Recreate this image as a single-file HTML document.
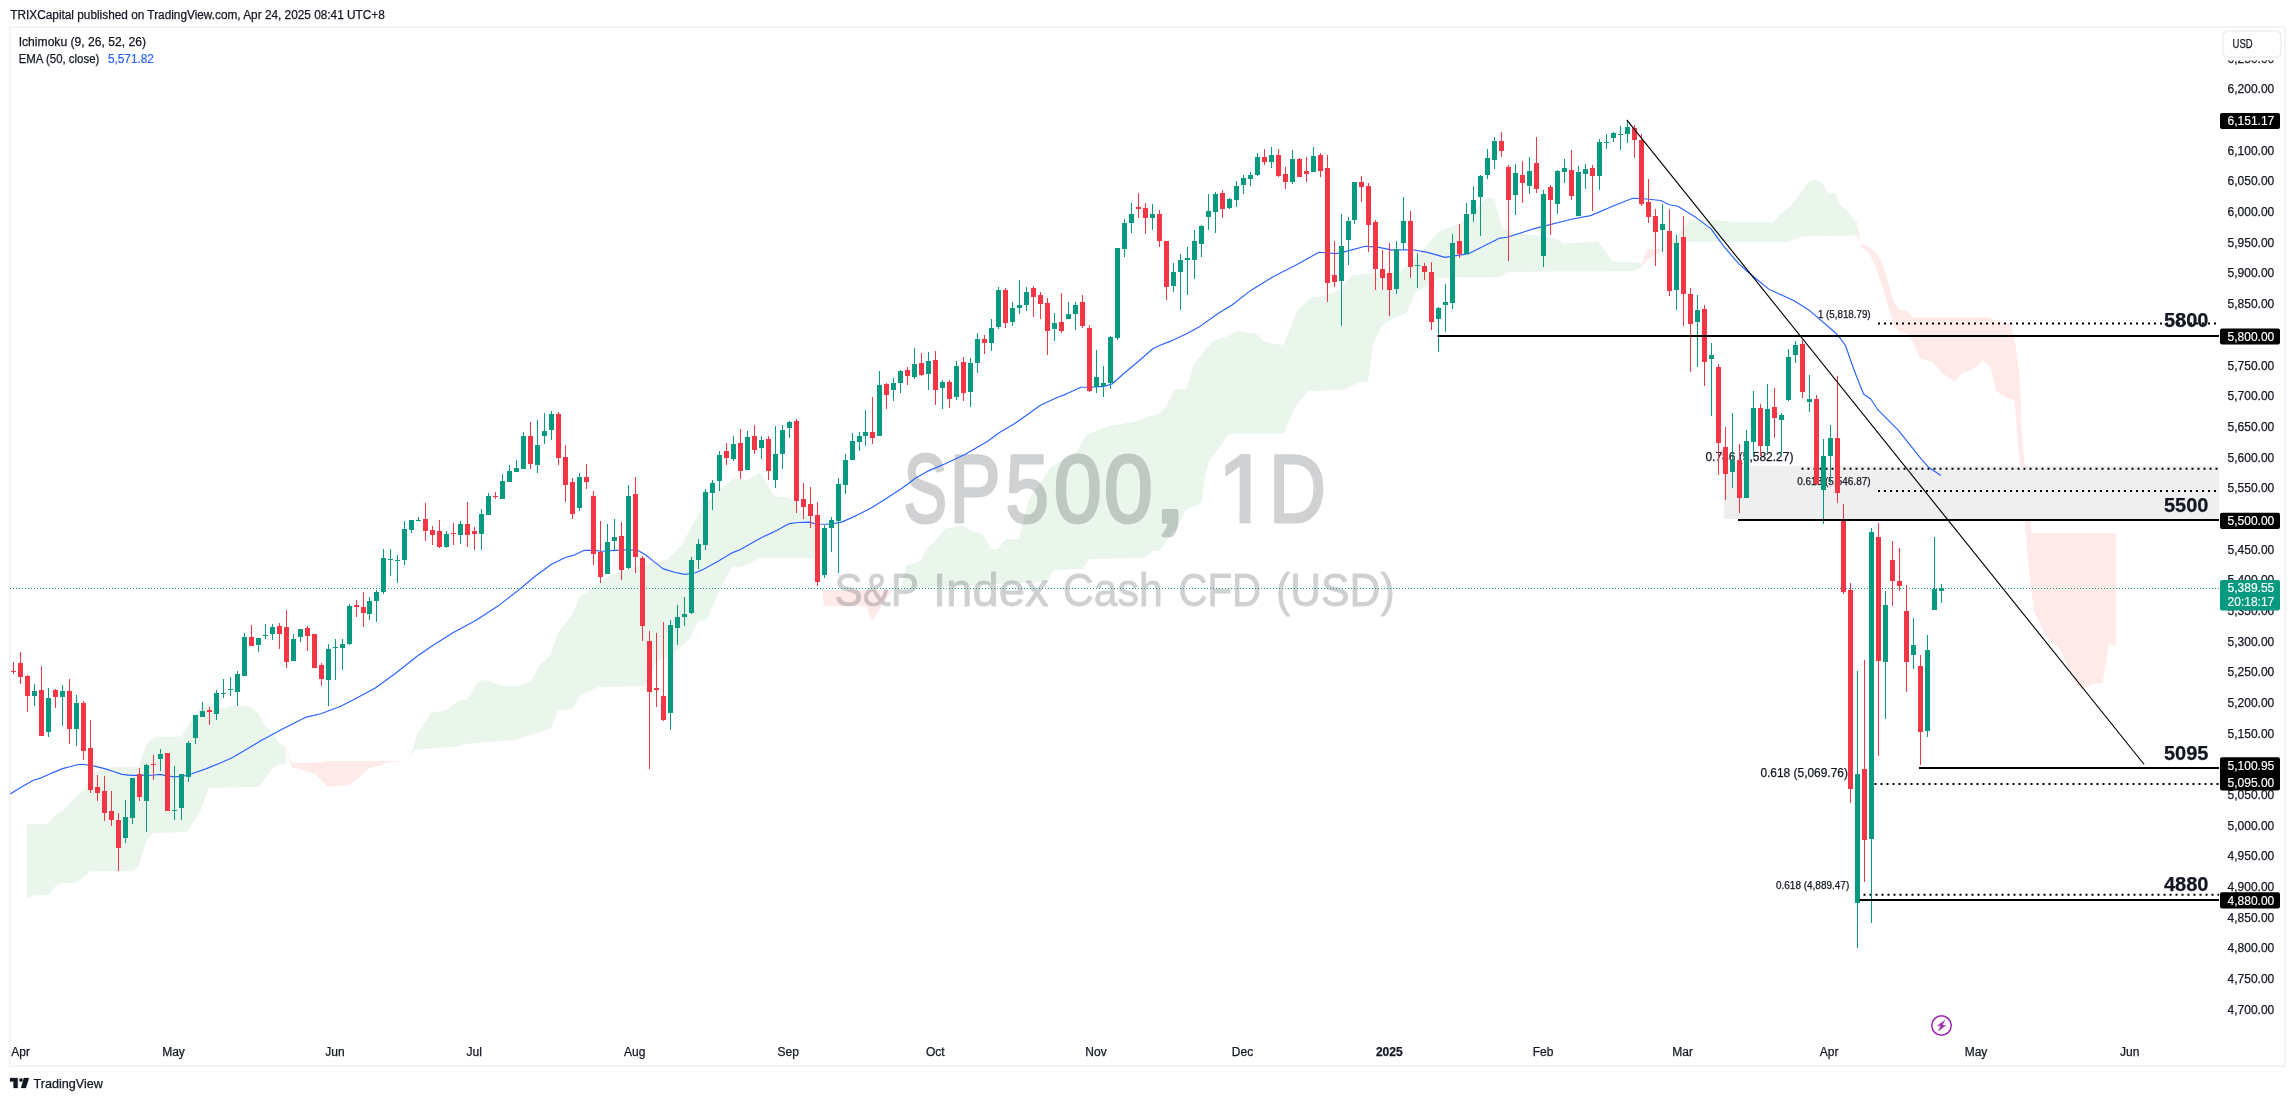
<!DOCTYPE html>
<html><head><meta charset="utf-8"><title>SP500 1D chart</title>
<style>html,body{margin:0;padding:0;background:#fff;overflow:hidden;}svg{display:block;will-change:transform;}</style>
</head><body>
<svg width="2295" height="1101" viewBox="0 0 2295 1101">
<rect x="0" y="0" width="2295" height="1101" fill="#fff"/>
<rect x="10" y="27" width="2275" height="1039" fill="none" stroke="#f0f0f0" stroke-width="1.5"/>
<polygon points="27.0,824.3 48.0,824.3 55.0,814.9 63.0,810.9 74.9,797.9 82.9,790.9 88.0,782.0 94.9,771.9 110.9,766.9 138.9,766.9 142.9,753.9 146.9,743.9 154.9,737.0 180.8,736.4 184.8,730.0 194.0,715.8 202.8,705.0 210.8,703.0 220.8,709.0 234.8,705.0 250.8,707.0 258.8,714.0 264.7,726.0 272.7,732.0 278.7,743.0 285.7,746.9 285.7,763.5 280.7,763.5 272.7,767.9 266.7,775.9 258.8,786.9 208.8,787.9 200.8,809.9 194.8,819.9 186.8,831.9 152.9,832.9 146.9,839.9 142.9,851.8 138.9,865.8 132.9,870.8 89.9,871.4 82.9,877.8 74.9,882.8 62.0,883.2 55.0,886.8 48.0,894.8 33.0,895.8 27.0,898.8" fill="rgba(67,160,71,0.11)"/>
<polygon points="285.7,746.9 291.7,762.9 320.7,762.3 326.7,760.9 406.6,760.9 404.6,760.9 386.6,762.9 374.6,766.9 368.6,767.9 358.7,777.9 348.7,785.5 334.7,785.9 327.7,786.9 320.7,779.9 314.7,773.9 304.7,770.9 296.7,767.9 291.7,767.5" fill="rgba(244,67,54,0.11)"/>
<polygon points="406.6,760.9 412.6,749.9 416.6,735.0 422.6,726.0 430.9,712.4 445.4,710.6 458.1,700.8 467.2,699.7 478.1,681.6 485.4,679.7 499.9,685.2 516.2,686.3 530.8,681.6 539.9,665.2 550.8,654.3 558.0,632.5 572.6,614.3 579.8,596.2 587.1,592.5 598.0,583.5 612.5,574.4 634.3,567.1 647.0,564.2 667.0,559.9 681.5,545.3 692.4,525.3 703.3,507.2 714.2,494.5 734.2,478.1 740.0,479.1 747.3,480.0 760.0,472.7 767.5,485.0 774.5,496.3 789.0,498.1 796.3,503.6 801.8,513.6 814.5,518.0 814.5,558.0 760.0,558.0 750.6,563.5 740.0,567.0 732.4,567.1 721.5,585.3 707.0,619.8 697.9,621.6 688.8,639.8 670.6,656.1 656.1,661.6 645.2,686.3 598.0,687.0 579.8,696.1 572.6,708.8 558.0,710.6 550.8,728.8 532.6,734.2 516.2,739.7 470.8,743.3 452.7,747.0 427.2,748.8 414.6,750.0" fill="rgba(67,160,71,0.11)"/>
<polygon points="821.6,577.5 822.8,589.9 892.8,589.9 881.4,605.8 872.2,621.3 866.0,606.1 823.8,606.1" fill="rgba(244,67,54,0.11)"/>
<polygon points="901.2,588.3 906.2,565.4 920.9,561.3 927.4,547.4 933.9,542.5 945.4,528.6 961.7,525.3 971.5,531.1 983.0,534.3 991.1,549.0 997.7,549.0 1005.9,539.2 1018.9,539.2 1028.8,500.0 1050.6,467.0 1076.1,452.5 1087.0,434.3 1108.8,426.0 1134.2,422.0 1148.7,416.2 1158.2,414.3 1166.3,406.2 1174.5,389.8 1186.8,388.4 1193.6,365.3 1212.7,340.8 1226.3,336.7 1237.2,331.2 1256.3,334.0 1264.4,342.1 1283.5,344.9 1297.1,310.8 1310.8,297.7 1324.4,295.8 1340.7,289.0 1351.6,275.4 1362.5,274.0 1401.7,270.8 1422.5,250.8 1430.8,240.0 1438.4,231.8 1459.9,223.6 1487.1,198.2 1494.4,198.2 1501.6,226.3 1508.9,231.8 1554.3,238.1 1563.4,243.6 1597.9,241.8 1604.6,250.5 1612.6,261.5 1638.8,262.7 1641.2,264.0 1641.2,267.6 1632.7,271.3 1508.9,271.7 1499.8,277.2 1454.4,277.2 1438.0,279.0 1427.2,286.3 1416.3,291.7 1406.1,313.5 1395.2,317.6 1381.6,325.8 1373.4,343.5 1368.0,381.6 1357.1,383.0 1346.2,389.8 1308.0,391.2 1297.1,403.4 1283.5,433.4 1229.0,433.4 1223.6,441.6 1208.6,462.0 1204.5,480.0 1202.0,500.0 1200.4,504.1 1185.6,509.8 1177.5,527.8 1167.7,539.2 1159.5,550.7 1153.0,550.7 1143.2,558.0 1089.2,558.9 1082.7,568.7 1053.3,570.3 1046.7,581.7" fill="rgba(67,160,71,0.11)"/>
<polygon points="1641.2,266.0 1647.3,249.3 1663.2,248.7 1665.6,248.1 1654.7,255.4 1647.3,259.7 1641.2,267.6" fill="rgba(244,67,54,0.11)"/>
<polygon points="1665.6,248.1 1675.4,237.1 1690.0,219.4 1712.0,220.0 1736.4,221.9 1773.0,222.5 1780.3,213.9 1787.7,209.0 1797.4,198.1 1808.4,181.6 1815.7,179.8 1821.8,182.8 1827.9,192.6 1835.2,193.2 1841.3,206.6 1847.3,210.9 1857.3,222.7 1857.3,235.4 1801.1,236.5 1787.7,242.0 1685.2,242.0" fill="rgba(67,160,71,0.11)"/>
<polygon points="1857.3,223.6 1860.8,243.6 1869.6,247.5 1878.1,254.5 1884.5,269.0 1892.7,299.0 1899.0,309.9 1906.3,309.9 1912.7,317.2 1989.0,317.2 1996.2,320.8 2010.8,323.5 2013.5,336.2 2016.2,349.0 2018.9,368.9 2020.7,400.0 2021.7,434.8 2026.6,483.9 2031.5,532.9 2116.0,532.9 2116.0,645.7 2109.0,643.3 2102.6,682.5 2092.8,684.0 2080.5,689.9 2070.7,675.1 2060.9,650.6 2046.2,635.9 2033.9,611.4 2029.0,572.2 2024.1,513.3 2019.2,454.5 2014.3,400.5 2004.4,397.1 1996.2,390.7 1990.8,368.0 1982.6,359.9 1972.6,369.8 1961.7,373.5 1954.4,381.7 1941.7,372.6 1933.6,362.6 1919.9,358.0 1913.6,343.5 1907.2,333.5 1900.0,332.6 1894.5,327.2 1889.0,309.0 1883.6,290.8 1876.3,269.0 1870.0,254.5 1861.8,247.2 1857.3,235.4" fill="rgba(244,67,54,0.11)"/>
<g opacity="0.22" fill="#2a2e39" stroke="#2a2e39" stroke-width="3" stroke-linejoin="round" font-family="'Liberation Sans', Arial, sans-serif">
<text transform="translate(903.67,521.8) scale(0.6759,1.0)" font-size="96">S</text>
<text transform="translate(949.51,521.8) scale(0.7981,1.0)" font-size="96">P</text>
<text transform="translate(1005.57,521.8) scale(0.8124,1.0)" font-size="96">5</text>
<text transform="translate(1053.67,521.8) scale(0.9000,1.0)" font-size="96">0</text>
<text transform="translate(1103.63,521.8) scale(0.9204,1.0)" font-size="96">0</text>
<text transform="translate(1268.97,521.8) scale(0.8201,1.0)" font-size="96">D</text>
<text transform="translate(1151.72,522.3) scale(1.3633,1.1)" font-size="96">,</text>
<clipPath id="c1" clipPathUnits="userSpaceOnUse"><rect x="-20" y="-90" width="90" height="80.6"/><rect x="22.7" y="-20" width="11.4" height="22"/></clipPath>
<text transform="translate(1217.9,521.8) scale(0.954,1)" font-size="96" clip-path="url(#c1)">1</text>
</g>
<g opacity="0.22" fill="#2a2e39" stroke="#2a2e39" stroke-width="0.9" stroke-linejoin="round" font-family="'Liberation Sans', Arial, sans-serif">
<text transform="translate(834.59,605.8) scale(0.8952,1.0)" font-size="47">S&amp;P</text>
<text transform="translate(932.98,605.8) scale(1.0058,1.0)" font-size="47">Index</text>
<text transform="translate(1062.83,605.8) scale(0.9113,1.0)" font-size="47">Cash</text>
<text transform="translate(1178.45,605.8) scale(0.8558,1.0)" font-size="47">CFD</text>
<text transform="translate(1275.98,605.8) scale(0.9097,1.0)" font-size="47">(USD)</text>
</g>
<rect x="1724" y="466" width="495" height="53" fill="#efefef"/>
<line x1="10" y1="588.5" x2="2219" y2="588.5" stroke="#089981" stroke-width="1" stroke-dasharray="1 2"/>
<text x="1817.9" y="318" font-family="'Liberation Sans', Arial, sans-serif" font-size="10" fill="#131722" stroke="#131722" stroke-width="0.25" textLength="52.7" lengthAdjust="spacingAndGlyphs">1 (5,818.79)</text>
<text x="1797.2" y="484.8" font-family="'Liberation Sans', Arial, sans-serif" font-size="10" fill="#131722" stroke="#131722" stroke-width="0.25" textLength="73.4" lengthAdjust="spacingAndGlyphs">0.618 (5,546.87)</text>
<text x="1705.4" y="461" font-family="'Liberation Sans', Arial, sans-serif" font-size="12" fill="#131722" stroke="#131722" stroke-width="0.25" textLength="88" lengthAdjust="spacingAndGlyphs">0.786 (5,582.27)</text>
<line x1="1878" y1="323.6" x2="2219" y2="323.6" stroke="#000" stroke-width="2" stroke-dasharray="2 4"/>
<line x1="1801.5" y1="468.8" x2="2219" y2="468.8" stroke="#000" stroke-width="2" stroke-dasharray="2 4"/>
<line x1="1878" y1="490.9" x2="2219" y2="490.9" stroke="#000" stroke-width="2" stroke-dasharray="2 4"/>
<line x1="1874.5" y1="784" x2="2219" y2="784" stroke="#000" stroke-width="2" stroke-dasharray="2 4"/>
<line x1="1863.5" y1="894.8" x2="2219" y2="894.8" stroke="#000" stroke-width="2" stroke-dasharray="2 4"/>
<polyline points="10.2,794.0 21.8,786.8 33.4,780.2 40.7,778.1 50.9,773.4 62.5,768.6 69.8,766.7 77.0,764.7 82.8,764.3 94.5,766.1 104.7,768.6 113.4,771.5 122.1,774.4 130.8,775.4 139.5,775.4 152.6,775.2 159.9,774.4 167.2,775.9 174.4,776.9 183.1,776.3 191.9,773.7 206.4,768.6 220.9,762.8 232.6,757.4 247.1,749.0 261.6,740.3 279.1,730.8 290.0,725.3 306.3,717.1 320.9,713.8 340.8,706.2 359.0,696.8 375.3,688.0 395.3,673.5 417.1,656.2 431.6,646.3 453.4,632.6 475.2,620.8 498.8,605.4 520.6,588.5 535.1,576.3 551.5,564.2 566.0,557.2 573.3,555.4 584.2,550.3 594.5,550.4 601.8,551.2 614.9,550.4 625.1,549.7 638.1,550.4 645.4,554.8 652.7,560.6 662.8,568.6 674.5,572.2 684.7,574.4 694.8,573.0 703.5,569.3 718.1,561.3 732.6,552.6 739.9,549.7 761.7,537.4 776.2,530.8 789.3,523.6 798.0,522.5 809.7,522.1 815.5,524.0 827.1,524.3 835.8,523.1 841.6,522.1 856.2,515.6 870.7,508.3 886.3,498.4 902.7,487.8 915.8,478.0 927.2,471.4 945.2,463.7 964.8,454.6 987.7,441.2 999.1,432.7 1013.9,424.0 1026.9,415.0 1040.0,405.5 1056.4,397.8 1066.2,394.1 1080.9,387.2 1090.7,387.2 1103.8,386.4 1112.0,384.0 1125.0,372.5 1139.7,360.2 1152.8,348.8 1159.4,345.5 1170.0,341.4 1186.1,334.0 1199.0,327.1 1217.9,313.5 1231.7,305.3 1250.8,290.4 1272.6,276.9 1297.1,264.5 1318.9,252.2 1336.3,253.6 1346.2,251.4 1365.3,246.2 1378.9,247.4 1392.5,250.1 1412.6,249.7 1427.5,252.4 1445.0,257.4 1468.9,253.6 1485.4,245.2 1499.8,238.1 1507.2,237.2 1536.2,228.1 1572.5,219.0 1590.6,215.6 1612.6,206.3 1632.7,198.3 1641.5,198.5 1660.8,200.5 1669.3,204.8 1677.8,206.2 1696.1,217.6 1710.8,228.6 1724.2,246.9 1738.9,263.9 1748.6,272.5 1754.3,277.2 1769.4,289.6 1794.2,300.8 1808.8,309.9 1834.2,331.7 1840.0,338.0 1845.4,345.3 1854.0,370.0 1863.6,394.0 1871.0,399.2 1877.8,409.7 1898.2,430.2 1911.8,447.2 1920.9,458.6 1928.9,467.6 1940.9,475.6" fill="none" stroke="#2962FF" stroke-width="1.15" stroke-linejoin="round"/>
<rect x="13.0" y="662" width="1" height="12" fill="#F23645"/>
<rect x="11.0" y="671" width="5" height="1" fill="#F23645"/>
<rect x="20.0" y="652" width="1" height="32" fill="#F23645"/>
<rect x="18.0" y="663" width="5" height="14" fill="#F23645"/>
<rect x="27.0" y="675" width="1" height="37" fill="#F23645"/>
<rect x="25.0" y="676" width="5" height="20" fill="#F23645"/>
<rect x="34.0" y="684" width="1" height="22" fill="#089981"/>
<rect x="32.0" y="691" width="5" height="5" fill="#089981"/>
<rect x="41.0" y="666" width="1" height="70" fill="#F23645"/>
<rect x="39.0" y="690" width="5" height="46" fill="#F23645"/>
<rect x="48.0" y="688" width="1" height="49" fill="#089981"/>
<rect x="46.0" y="698" width="5" height="34" fill="#089981"/>
<rect x="55.0" y="689" width="1" height="19" fill="#F23645"/>
<rect x="53.0" y="690" width="5" height="7" fill="#F23645"/>
<rect x="62.0" y="685" width="1" height="41" fill="#089981"/>
<rect x="60.0" y="691" width="5" height="6" fill="#089981"/>
<rect x="69.0" y="679" width="1" height="65" fill="#F23645"/>
<rect x="67.0" y="691" width="5" height="38" fill="#F23645"/>
<rect x="76.0" y="695" width="1" height="51" fill="#089981"/>
<rect x="74.0" y="703" width="5" height="26" fill="#089981"/>
<rect x="83.0" y="701" width="1" height="59" fill="#F23645"/>
<rect x="81.0" y="703" width="5" height="48" fill="#F23645"/>
<rect x="90.0" y="720" width="1" height="73" fill="#F23645"/>
<rect x="88.0" y="748" width="5" height="42" fill="#F23645"/>
<rect x="97.0" y="775" width="1" height="26" fill="#F23645"/>
<rect x="95.0" y="787" width="5" height="6" fill="#F23645"/>
<rect x="104.0" y="776" width="1" height="45" fill="#F23645"/>
<rect x="102.0" y="791" width="5" height="22" fill="#F23645"/>
<rect x="111.0" y="791" width="1" height="35" fill="#F23645"/>
<rect x="109.0" y="811" width="5" height="9" fill="#F23645"/>
<rect x="118.0" y="813" width="1" height="58" fill="#F23645"/>
<rect x="116.0" y="820" width="5" height="28" fill="#F23645"/>
<rect x="125.0" y="800" width="1" height="43" fill="#089981"/>
<rect x="123.0" y="817" width="5" height="21" fill="#089981"/>
<rect x="132.0" y="778" width="1" height="46" fill="#089981"/>
<rect x="130.0" y="778" width="5" height="40" fill="#089981"/>
<rect x="139.0" y="768" width="1" height="33" fill="#F23645"/>
<rect x="137.0" y="774" width="5" height="23" fill="#F23645"/>
<rect x="146.0" y="764" width="1" height="68" fill="#089981"/>
<rect x="144.0" y="765" width="5" height="36" fill="#089981"/>
<rect x="153.0" y="755" width="1" height="25" fill="#F23645"/>
<rect x="151.0" y="764" width="5" height="1" fill="#F23645"/>
<rect x="160.0" y="749" width="1" height="22" fill="#089981"/>
<rect x="158.0" y="754" width="5" height="5" fill="#089981"/>
<rect x="167.0" y="753" width="1" height="58" fill="#F23645"/>
<rect x="165.0" y="753" width="5" height="58" fill="#F23645"/>
<rect x="174.0" y="766" width="1" height="54" fill="#089981"/>
<rect x="172.0" y="810" width="5" height="1" fill="#089981"/>
<rect x="181.0" y="774" width="1" height="46" fill="#089981"/>
<rect x="179.0" y="774" width="5" height="34" fill="#089981"/>
<rect x="188.0" y="741" width="1" height="41" fill="#089981"/>
<rect x="186.0" y="743" width="5" height="34" fill="#089981"/>
<rect x="195.0" y="715" width="1" height="29" fill="#089981"/>
<rect x="193.0" y="715" width="5" height="23" fill="#089981"/>
<rect x="202.0" y="702" width="1" height="15" fill="#089981"/>
<rect x="200.0" y="711" width="5" height="6" fill="#089981"/>
<rect x="209.0" y="707" width="1" height="18" fill="#F23645"/>
<rect x="207.0" y="710" width="5" height="2" fill="#F23645"/>
<rect x="216.0" y="690" width="1" height="30" fill="#089981"/>
<rect x="214.0" y="693" width="5" height="21" fill="#089981"/>
<rect x="223.0" y="679" width="1" height="19" fill="#089981"/>
<rect x="221.0" y="693" width="5" height="1" fill="#089981"/>
<rect x="230.0" y="677" width="1" height="19" fill="#089981"/>
<rect x="228.0" y="689" width="5" height="1" fill="#089981"/>
<rect x="237.0" y="671" width="1" height="35" fill="#089981"/>
<rect x="235.0" y="674" width="5" height="18" fill="#089981"/>
<rect x="244.0" y="633" width="1" height="43" fill="#089981"/>
<rect x="242.0" y="637" width="5" height="39" fill="#089981"/>
<rect x="251.0" y="625" width="1" height="21" fill="#F23645"/>
<rect x="249.0" y="637" width="5" height="9" fill="#F23645"/>
<rect x="258.0" y="638" width="1" height="14" fill="#089981"/>
<rect x="256.0" y="638" width="5" height="7" fill="#089981"/>
<rect x="265.0" y="624" width="1" height="15" fill="#089981"/>
<rect x="263.0" y="635" width="5" height="1" fill="#089981"/>
<rect x="272.0" y="624" width="1" height="16" fill="#089981"/>
<rect x="270.0" y="627" width="5" height="7" fill="#089981"/>
<rect x="279.0" y="623" width="1" height="26" fill="#F23645"/>
<rect x="277.0" y="626" width="5" height="8" fill="#F23645"/>
<rect x="286.0" y="610" width="1" height="58" fill="#F23645"/>
<rect x="284.0" y="627" width="5" height="35" fill="#F23645"/>
<rect x="293.0" y="634" width="1" height="27" fill="#089981"/>
<rect x="291.0" y="639" width="5" height="22" fill="#089981"/>
<rect x="300.0" y="629" width="1" height="13" fill="#089981"/>
<rect x="298.0" y="629" width="5" height="8" fill="#089981"/>
<rect x="307.0" y="626" width="1" height="25" fill="#F23645"/>
<rect x="305.0" y="628" width="5" height="8" fill="#F23645"/>
<rect x="314.0" y="634" width="1" height="34" fill="#F23645"/>
<rect x="312.0" y="634" width="5" height="34" fill="#F23645"/>
<rect x="321.0" y="663" width="1" height="23" fill="#F23645"/>
<rect x="319.0" y="665" width="5" height="14" fill="#F23645"/>
<rect x="328.0" y="644" width="1" height="62" fill="#089981"/>
<rect x="326.0" y="649" width="5" height="31" fill="#089981"/>
<rect x="335.0" y="639" width="1" height="41" fill="#089981"/>
<rect x="333.0" y="647" width="5" height="1" fill="#089981"/>
<rect x="342.0" y="639" width="1" height="31" fill="#089981"/>
<rect x="340.0" y="644" width="5" height="4" fill="#089981"/>
<rect x="349.0" y="604" width="1" height="41" fill="#089981"/>
<rect x="347.0" y="606" width="5" height="38" fill="#089981"/>
<rect x="356.0" y="600" width="1" height="17" fill="#F23645"/>
<rect x="354.0" y="605" width="5" height="2" fill="#F23645"/>
<rect x="363.0" y="592" width="1" height="35" fill="#F23645"/>
<rect x="361.0" y="607" width="5" height="6" fill="#F23645"/>
<rect x="369.0" y="597" width="1" height="23" fill="#089981"/>
<rect x="367.0" y="601" width="5" height="13" fill="#089981"/>
<rect x="376.0" y="590" width="1" height="32" fill="#089981"/>
<rect x="374.0" y="592" width="5" height="9" fill="#089981"/>
<rect x="383.0" y="549" width="1" height="45" fill="#089981"/>
<rect x="381.0" y="558" width="5" height="34" fill="#089981"/>
<rect x="390.0" y="549" width="1" height="27" fill="#089981"/>
<rect x="388.0" y="559" width="5" height="1" fill="#089981"/>
<rect x="397.0" y="555" width="1" height="28" fill="#089981"/>
<rect x="395.0" y="560" width="5" height="1" fill="#089981"/>
<rect x="404.0" y="521" width="1" height="44" fill="#089981"/>
<rect x="402.0" y="529" width="5" height="31" fill="#089981"/>
<rect x="411.0" y="520" width="1" height="13" fill="#089981"/>
<rect x="409.0" y="520" width="5" height="10" fill="#089981"/>
<rect x="418.0" y="517" width="1" height="4" fill="#089981"/>
<rect x="416.0" y="520" width="5" height="1" fill="#089981"/>
<rect x="425.0" y="503" width="1" height="38" fill="#F23645"/>
<rect x="423.0" y="519" width="5" height="12" fill="#F23645"/>
<rect x="432.0" y="526" width="1" height="19" fill="#F23645"/>
<rect x="430.0" y="530" width="5" height="5" fill="#F23645"/>
<rect x="439.0" y="520" width="1" height="28" fill="#F23645"/>
<rect x="437.0" y="531" width="5" height="16" fill="#F23645"/>
<rect x="446.0" y="531" width="1" height="17" fill="#089981"/>
<rect x="444.0" y="534" width="5" height="13" fill="#089981"/>
<rect x="453.0" y="523" width="1" height="22" fill="#F23645"/>
<rect x="451.0" y="533" width="5" height="1" fill="#F23645"/>
<rect x="460.0" y="521" width="1" height="23" fill="#089981"/>
<rect x="458.0" y="524" width="5" height="11" fill="#089981"/>
<rect x="467.0" y="502" width="1" height="45" fill="#F23645"/>
<rect x="465.0" y="524" width="5" height="11" fill="#F23645"/>
<rect x="474.0" y="527" width="1" height="23" fill="#F23645"/>
<rect x="472.0" y="531" width="5" height="3" fill="#F23645"/>
<rect x="481.0" y="509" width="1" height="41" fill="#089981"/>
<rect x="479.0" y="514" width="5" height="20" fill="#089981"/>
<rect x="488.0" y="493" width="1" height="22" fill="#089981"/>
<rect x="486.0" y="496" width="5" height="19" fill="#089981"/>
<rect x="495.0" y="492" width="1" height="7" fill="#F23645"/>
<rect x="493.0" y="496" width="5" height="1" fill="#F23645"/>
<rect x="502.0" y="474" width="1" height="25" fill="#089981"/>
<rect x="500.0" y="481" width="5" height="18" fill="#089981"/>
<rect x="509.0" y="465" width="1" height="17" fill="#089981"/>
<rect x="507.0" y="471" width="5" height="11" fill="#089981"/>
<rect x="516.0" y="460" width="1" height="12" fill="#089981"/>
<rect x="514.0" y="468" width="5" height="4" fill="#089981"/>
<rect x="523.0" y="432" width="1" height="37" fill="#089981"/>
<rect x="521.0" y="436" width="5" height="33" fill="#089981"/>
<rect x="530.0" y="422" width="1" height="47" fill="#F23645"/>
<rect x="528.0" y="436" width="5" height="28" fill="#F23645"/>
<rect x="537.0" y="420" width="1" height="53" fill="#089981"/>
<rect x="535.0" y="445" width="5" height="20" fill="#089981"/>
<rect x="544.0" y="413" width="1" height="31" fill="#089981"/>
<rect x="542.0" y="431" width="5" height="5" fill="#089981"/>
<rect x="551.0" y="411" width="1" height="29" fill="#089981"/>
<rect x="549.0" y="414" width="5" height="16" fill="#089981"/>
<rect x="558.0" y="412" width="1" height="53" fill="#F23645"/>
<rect x="556.0" y="414" width="5" height="44" fill="#F23645"/>
<rect x="565.0" y="445" width="1" height="57" fill="#F23645"/>
<rect x="563.0" y="457" width="5" height="28" fill="#F23645"/>
<rect x="572.0" y="478" width="1" height="41" fill="#F23645"/>
<rect x="570.0" y="482" width="5" height="32" fill="#F23645"/>
<rect x="579.0" y="473" width="1" height="38" fill="#089981"/>
<rect x="577.0" y="477" width="5" height="31" fill="#089981"/>
<rect x="586.0" y="464" width="1" height="25" fill="#F23645"/>
<rect x="584.0" y="477" width="5" height="5" fill="#F23645"/>
<rect x="593.0" y="491" width="1" height="74" fill="#F23645"/>
<rect x="591.0" y="496" width="5" height="58" fill="#F23645"/>
<rect x="600.0" y="521" width="1" height="62" fill="#F23645"/>
<rect x="598.0" y="552" width="5" height="25" fill="#F23645"/>
<rect x="607.0" y="524" width="1" height="50" fill="#089981"/>
<rect x="605.0" y="542" width="5" height="32" fill="#089981"/>
<rect x="614.0" y="519" width="1" height="31" fill="#089981"/>
<rect x="612.0" y="537" width="5" height="4" fill="#089981"/>
<rect x="621.0" y="522" width="1" height="58" fill="#F23645"/>
<rect x="619.0" y="536" width="5" height="34" fill="#F23645"/>
<rect x="628.0" y="485" width="1" height="84" fill="#089981"/>
<rect x="626.0" y="496" width="5" height="72" fill="#089981"/>
<rect x="635.0" y="477" width="1" height="96" fill="#F23645"/>
<rect x="633.0" y="494" width="5" height="63" fill="#F23645"/>
<rect x="642.0" y="556" width="1" height="85" fill="#F23645"/>
<rect x="640.0" y="558" width="5" height="68" fill="#F23645"/>
<rect x="649.0" y="631" width="1" height="138" fill="#F23645"/>
<rect x="647.0" y="641" width="5" height="51" fill="#F23645"/>
<rect x="656.0" y="633" width="1" height="74" fill="#F23645"/>
<rect x="654.0" y="688" width="5" height="2" fill="#F23645"/>
<rect x="663.0" y="622" width="1" height="99" fill="#F23645"/>
<rect x="661.0" y="696" width="5" height="24" fill="#F23645"/>
<rect x="670.0" y="620" width="1" height="110" fill="#089981"/>
<rect x="668.0" y="625" width="5" height="88" fill="#089981"/>
<rect x="677.0" y="605" width="1" height="40" fill="#089981"/>
<rect x="675.0" y="617" width="5" height="11" fill="#089981"/>
<rect x="684.0" y="597" width="1" height="29" fill="#089981"/>
<rect x="682.0" y="614" width="5" height="3" fill="#089981"/>
<rect x="691.0" y="557" width="1" height="57" fill="#089981"/>
<rect x="689.0" y="560" width="5" height="53" fill="#089981"/>
<rect x="698.0" y="539" width="1" height="30" fill="#089981"/>
<rect x="696.0" y="544" width="5" height="16" fill="#089981"/>
<rect x="705.0" y="489" width="1" height="61" fill="#089981"/>
<rect x="703.0" y="492" width="5" height="53" fill="#089981"/>
<rect x="712.0" y="480" width="1" height="30" fill="#089981"/>
<rect x="710.0" y="483" width="5" height="10" fill="#089981"/>
<rect x="719.0" y="451" width="1" height="40" fill="#089981"/>
<rect x="717.0" y="455" width="5" height="26" fill="#089981"/>
<rect x="726.0" y="443" width="1" height="22" fill="#F23645"/>
<rect x="724.0" y="451" width="5" height="7" fill="#F23645"/>
<rect x="733.0" y="436" width="1" height="25" fill="#089981"/>
<rect x="731.0" y="444" width="5" height="15" fill="#089981"/>
<rect x="740.0" y="429" width="1" height="50" fill="#F23645"/>
<rect x="738.0" y="443" width="5" height="28" fill="#F23645"/>
<rect x="747.0" y="431" width="1" height="39" fill="#089981"/>
<rect x="745.0" y="437" width="5" height="33" fill="#089981"/>
<rect x="754.0" y="425" width="1" height="29" fill="#F23645"/>
<rect x="752.0" y="436" width="5" height="14" fill="#F23645"/>
<rect x="761.0" y="436" width="1" height="23" fill="#089981"/>
<rect x="759.0" y="440" width="5" height="8" fill="#089981"/>
<rect x="768.0" y="436" width="1" height="44" fill="#F23645"/>
<rect x="766.0" y="439" width="5" height="32" fill="#F23645"/>
<rect x="775.0" y="426" width="1" height="62" fill="#089981"/>
<rect x="773.0" y="454" width="5" height="26" fill="#089981"/>
<rect x="782.0" y="425" width="1" height="44" fill="#089981"/>
<rect x="780.0" y="430" width="5" height="24" fill="#089981"/>
<rect x="789.0" y="421" width="1" height="17" fill="#089981"/>
<rect x="787.0" y="422" width="5" height="6" fill="#089981"/>
<rect x="796.0" y="419" width="1" height="94" fill="#F23645"/>
<rect x="794.0" y="421" width="5" height="80" fill="#F23645"/>
<rect x="803.0" y="483" width="1" height="36" fill="#F23645"/>
<rect x="801.0" y="499" width="5" height="8" fill="#F23645"/>
<rect x="810.0" y="487" width="1" height="41" fill="#F23645"/>
<rect x="808.0" y="504" width="5" height="12" fill="#F23645"/>
<rect x="817.0" y="502" width="1" height="84" fill="#F23645"/>
<rect x="815.0" y="515" width="5" height="67" fill="#F23645"/>
<rect x="824.0" y="525" width="1" height="53" fill="#089981"/>
<rect x="822.0" y="528" width="5" height="47" fill="#089981"/>
<rect x="831.0" y="517" width="1" height="35" fill="#089981"/>
<rect x="829.0" y="520" width="5" height="8" fill="#089981"/>
<rect x="838.0" y="478" width="1" height="95" fill="#089981"/>
<rect x="836.0" y="484" width="5" height="37" fill="#089981"/>
<rect x="845.0" y="454" width="1" height="40" fill="#089981"/>
<rect x="843.0" y="460" width="5" height="25" fill="#089981"/>
<rect x="852.0" y="433" width="1" height="27" fill="#089981"/>
<rect x="850.0" y="441" width="5" height="19" fill="#089981"/>
<rect x="859.0" y="432" width="1" height="19" fill="#089981"/>
<rect x="857.0" y="436" width="5" height="6" fill="#089981"/>
<rect x="865.0" y="410" width="1" height="36" fill="#089981"/>
<rect x="863.0" y="432" width="5" height="4" fill="#089981"/>
<rect x="872.0" y="397" width="1" height="47" fill="#F23645"/>
<rect x="870.0" y="432" width="5" height="6" fill="#F23645"/>
<rect x="879.0" y="371" width="1" height="65" fill="#089981"/>
<rect x="877.0" y="385" width="5" height="51" fill="#089981"/>
<rect x="886.0" y="383" width="1" height="26" fill="#F23645"/>
<rect x="884.0" y="384" width="5" height="11" fill="#F23645"/>
<rect x="893.0" y="378" width="1" height="23" fill="#089981"/>
<rect x="891.0" y="383" width="5" height="7" fill="#089981"/>
<rect x="900.0" y="370" width="1" height="23" fill="#089981"/>
<rect x="898.0" y="371" width="5" height="12" fill="#089981"/>
<rect x="907.0" y="367" width="1" height="18" fill="#F23645"/>
<rect x="905.0" y="370" width="5" height="6" fill="#F23645"/>
<rect x="914.0" y="348" width="1" height="31" fill="#089981"/>
<rect x="912.0" y="364" width="5" height="13" fill="#089981"/>
<rect x="921.0" y="353" width="1" height="23" fill="#F23645"/>
<rect x="919.0" y="363" width="5" height="12" fill="#F23645"/>
<rect x="928.0" y="352" width="1" height="38" fill="#089981"/>
<rect x="926.0" y="361" width="5" height="13" fill="#089981"/>
<rect x="935.0" y="351" width="1" height="54" fill="#F23645"/>
<rect x="933.0" y="360" width="5" height="30" fill="#F23645"/>
<rect x="942.0" y="380" width="1" height="29" fill="#089981"/>
<rect x="940.0" y="382" width="5" height="6" fill="#089981"/>
<rect x="949.0" y="380" width="1" height="28" fill="#F23645"/>
<rect x="947.0" y="382" width="5" height="17" fill="#F23645"/>
<rect x="956.0" y="361" width="1" height="39" fill="#089981"/>
<rect x="954.0" y="366" width="5" height="31" fill="#089981"/>
<rect x="963.0" y="357" width="1" height="44" fill="#F23645"/>
<rect x="961.0" y="362" width="5" height="31" fill="#F23645"/>
<rect x="970.0" y="358" width="1" height="49" fill="#089981"/>
<rect x="968.0" y="363" width="5" height="29" fill="#089981"/>
<rect x="977.0" y="333" width="1" height="40" fill="#089981"/>
<rect x="975.0" y="339" width="5" height="24" fill="#089981"/>
<rect x="984.0" y="335" width="1" height="19" fill="#F23645"/>
<rect x="982.0" y="339" width="5" height="4" fill="#F23645"/>
<rect x="991.0" y="319" width="1" height="32" fill="#089981"/>
<rect x="989.0" y="328" width="5" height="15" fill="#089981"/>
<rect x="998.0" y="287" width="1" height="42" fill="#089981"/>
<rect x="996.0" y="290" width="5" height="37" fill="#089981"/>
<rect x="1005.0" y="288" width="1" height="40" fill="#F23645"/>
<rect x="1003.0" y="290" width="5" height="33" fill="#F23645"/>
<rect x="1012.0" y="302" width="1" height="24" fill="#089981"/>
<rect x="1010.0" y="308" width="5" height="14" fill="#089981"/>
<rect x="1019.0" y="280" width="1" height="34" fill="#089981"/>
<rect x="1017.0" y="305" width="5" height="3" fill="#089981"/>
<rect x="1026.0" y="287" width="1" height="24" fill="#089981"/>
<rect x="1024.0" y="292" width="5" height="13" fill="#089981"/>
<rect x="1033.0" y="286" width="1" height="31" fill="#F23645"/>
<rect x="1031.0" y="288" width="5" height="9" fill="#F23645"/>
<rect x="1040.0" y="292" width="1" height="27" fill="#F23645"/>
<rect x="1038.0" y="295" width="5" height="9" fill="#F23645"/>
<rect x="1047.0" y="298" width="1" height="57" fill="#F23645"/>
<rect x="1045.0" y="303" width="5" height="28" fill="#F23645"/>
<rect x="1054.0" y="313" width="1" height="28" fill="#089981"/>
<rect x="1052.0" y="323" width="5" height="6" fill="#089981"/>
<rect x="1061.0" y="293" width="1" height="40" fill="#F23645"/>
<rect x="1059.0" y="322" width="5" height="9" fill="#F23645"/>
<rect x="1068.0" y="302" width="1" height="17" fill="#089981"/>
<rect x="1066.0" y="314" width="5" height="5" fill="#089981"/>
<rect x="1075.0" y="302" width="1" height="28" fill="#089981"/>
<rect x="1073.0" y="305" width="5" height="9" fill="#089981"/>
<rect x="1082.0" y="295" width="1" height="33" fill="#F23645"/>
<rect x="1080.0" y="302" width="5" height="24" fill="#F23645"/>
<rect x="1089.0" y="325" width="1" height="67" fill="#F23645"/>
<rect x="1087.0" y="328" width="5" height="63" fill="#F23645"/>
<rect x="1096.0" y="350" width="1" height="43" fill="#089981"/>
<rect x="1094.0" y="377" width="5" height="10" fill="#089981"/>
<rect x="1103.0" y="366" width="1" height="31" fill="#089981"/>
<rect x="1101.0" y="383" width="5" height="3" fill="#089981"/>
<rect x="1110.0" y="336" width="1" height="53" fill="#089981"/>
<rect x="1108.0" y="337" width="5" height="46" fill="#089981"/>
<rect x="1117.0" y="248" width="1" height="92" fill="#089981"/>
<rect x="1115.0" y="248" width="5" height="90" fill="#089981"/>
<rect x="1124.0" y="219" width="1" height="38" fill="#089981"/>
<rect x="1122.0" y="223" width="5" height="26" fill="#089981"/>
<rect x="1131.0" y="203" width="1" height="30" fill="#089981"/>
<rect x="1129.0" y="214" width="5" height="9" fill="#089981"/>
<rect x="1138.0" y="193" width="1" height="25" fill="#F23645"/>
<rect x="1136.0" y="207" width="5" height="2" fill="#F23645"/>
<rect x="1145.0" y="203" width="1" height="31" fill="#F23645"/>
<rect x="1143.0" y="208" width="5" height="10" fill="#F23645"/>
<rect x="1152.0" y="204" width="1" height="26" fill="#089981"/>
<rect x="1150.0" y="214" width="5" height="4" fill="#089981"/>
<rect x="1159.0" y="210" width="1" height="37" fill="#F23645"/>
<rect x="1157.0" y="214" width="5" height="27" fill="#F23645"/>
<rect x="1166.0" y="241" width="1" height="59" fill="#F23645"/>
<rect x="1164.0" y="241" width="5" height="46" fill="#F23645"/>
<rect x="1173.0" y="263" width="1" height="29" fill="#089981"/>
<rect x="1171.0" y="272" width="5" height="14" fill="#089981"/>
<rect x="1180.0" y="254" width="1" height="56" fill="#089981"/>
<rect x="1178.0" y="260" width="5" height="12" fill="#089981"/>
<rect x="1187.0" y="247" width="1" height="48" fill="#089981"/>
<rect x="1185.0" y="258" width="5" height="2" fill="#089981"/>
<rect x="1194.0" y="230" width="1" height="49" fill="#089981"/>
<rect x="1192.0" y="241" width="5" height="19" fill="#089981"/>
<rect x="1201.0" y="225" width="1" height="32" fill="#089981"/>
<rect x="1199.0" y="226" width="5" height="18" fill="#089981"/>
<rect x="1208.0" y="194" width="1" height="36" fill="#089981"/>
<rect x="1206.0" y="211" width="5" height="6" fill="#089981"/>
<rect x="1215.0" y="192" width="1" height="41" fill="#089981"/>
<rect x="1213.0" y="194" width="5" height="18" fill="#089981"/>
<rect x="1222.0" y="190" width="1" height="28" fill="#F23645"/>
<rect x="1220.0" y="193" width="5" height="16" fill="#F23645"/>
<rect x="1229.0" y="198" width="1" height="11" fill="#089981"/>
<rect x="1227.0" y="199" width="5" height="9" fill="#089981"/>
<rect x="1236.0" y="181" width="1" height="26" fill="#089981"/>
<rect x="1234.0" y="186" width="5" height="14" fill="#089981"/>
<rect x="1243.0" y="175" width="1" height="19" fill="#089981"/>
<rect x="1241.0" y="178" width="5" height="7" fill="#089981"/>
<rect x="1250.0" y="172" width="1" height="14" fill="#089981"/>
<rect x="1248.0" y="175" width="5" height="4" fill="#089981"/>
<rect x="1257.0" y="153" width="1" height="23" fill="#089981"/>
<rect x="1255.0" y="157" width="5" height="18" fill="#089981"/>
<rect x="1264.0" y="149" width="1" height="16" fill="#F23645"/>
<rect x="1262.0" y="157" width="5" height="5" fill="#F23645"/>
<rect x="1271.0" y="147" width="1" height="21" fill="#089981"/>
<rect x="1269.0" y="155" width="5" height="7" fill="#089981"/>
<rect x="1278.0" y="149" width="1" height="28" fill="#F23645"/>
<rect x="1276.0" y="155" width="5" height="21" fill="#F23645"/>
<rect x="1285.0" y="167" width="1" height="22" fill="#F23645"/>
<rect x="1283.0" y="174" width="5" height="8" fill="#F23645"/>
<rect x="1292.0" y="150" width="1" height="34" fill="#089981"/>
<rect x="1290.0" y="159" width="5" height="23" fill="#089981"/>
<rect x="1299.0" y="158" width="1" height="19" fill="#F23645"/>
<rect x="1297.0" y="159" width="5" height="18" fill="#F23645"/>
<rect x="1306.0" y="157" width="1" height="25" fill="#F23645"/>
<rect x="1304.0" y="171" width="5" height="3" fill="#F23645"/>
<rect x="1313.0" y="147" width="1" height="25" fill="#089981"/>
<rect x="1311.0" y="156" width="5" height="16" fill="#089981"/>
<rect x="1320.0" y="153" width="1" height="24" fill="#F23645"/>
<rect x="1318.0" y="155" width="5" height="16" fill="#F23645"/>
<rect x="1327.0" y="155" width="1" height="147" fill="#F23645"/>
<rect x="1325.0" y="168" width="5" height="115" fill="#F23645"/>
<rect x="1334.0" y="241" width="1" height="46" fill="#F23645"/>
<rect x="1332.0" y="275" width="5" height="7" fill="#F23645"/>
<rect x="1341.0" y="214" width="1" height="112" fill="#089981"/>
<rect x="1339.0" y="246" width="5" height="35" fill="#089981"/>
<rect x="1348.0" y="217" width="1" height="48" fill="#089981"/>
<rect x="1346.0" y="221" width="5" height="19" fill="#089981"/>
<rect x="1354.0" y="182" width="1" height="42" fill="#089981"/>
<rect x="1352.0" y="182" width="5" height="38" fill="#089981"/>
<rect x="1361.0" y="176" width="1" height="26" fill="#F23645"/>
<rect x="1359.0" y="182" width="5" height="5" fill="#F23645"/>
<rect x="1368.0" y="183" width="1" height="69" fill="#F23645"/>
<rect x="1366.0" y="186" width="5" height="39" fill="#F23645"/>
<rect x="1375.0" y="220" width="1" height="70" fill="#F23645"/>
<rect x="1373.0" y="222" width="5" height="47" fill="#F23645"/>
<rect x="1382.0" y="250" width="1" height="40" fill="#F23645"/>
<rect x="1380.0" y="269" width="5" height="9" fill="#F23645"/>
<rect x="1389.0" y="243" width="1" height="73" fill="#F23645"/>
<rect x="1387.0" y="273" width="5" height="17" fill="#F23645"/>
<rect x="1396.0" y="241" width="1" height="53" fill="#089981"/>
<rect x="1394.0" y="249" width="5" height="40" fill="#089981"/>
<rect x="1403.0" y="197" width="1" height="53" fill="#089981"/>
<rect x="1401.0" y="221" width="5" height="22" fill="#089981"/>
<rect x="1410.0" y="211" width="1" height="67" fill="#F23645"/>
<rect x="1408.0" y="221" width="5" height="46" fill="#F23645"/>
<rect x="1417.0" y="253" width="1" height="35" fill="#089981"/>
<rect x="1415.0" y="265" width="5" height="1" fill="#089981"/>
<rect x="1424.0" y="263" width="1" height="17" fill="#F23645"/>
<rect x="1422.0" y="266" width="5" height="6" fill="#F23645"/>
<rect x="1431.0" y="262" width="1" height="68" fill="#F23645"/>
<rect x="1429.0" y="272" width="5" height="50" fill="#F23645"/>
<rect x="1438.0" y="307" width="1" height="45" fill="#089981"/>
<rect x="1436.0" y="308" width="5" height="11" fill="#089981"/>
<rect x="1445.0" y="284" width="1" height="48" fill="#089981"/>
<rect x="1443.0" y="302" width="5" height="3" fill="#089981"/>
<rect x="1452.0" y="234" width="1" height="75" fill="#089981"/>
<rect x="1450.0" y="243" width="5" height="60" fill="#089981"/>
<rect x="1459.0" y="224" width="1" height="34" fill="#F23645"/>
<rect x="1457.0" y="241" width="5" height="13" fill="#F23645"/>
<rect x="1466.0" y="203" width="1" height="51" fill="#089981"/>
<rect x="1464.0" y="214" width="5" height="40" fill="#089981"/>
<rect x="1473.0" y="186" width="1" height="36" fill="#089981"/>
<rect x="1471.0" y="200" width="5" height="14" fill="#089981"/>
<rect x="1480.0" y="175" width="1" height="61" fill="#089981"/>
<rect x="1478.0" y="176" width="5" height="21" fill="#089981"/>
<rect x="1487.0" y="149" width="1" height="30" fill="#089981"/>
<rect x="1485.0" y="158" width="5" height="17" fill="#089981"/>
<rect x="1494.0" y="137" width="1" height="32" fill="#089981"/>
<rect x="1492.0" y="141" width="5" height="19" fill="#089981"/>
<rect x="1501.0" y="132" width="1" height="25" fill="#F23645"/>
<rect x="1499.0" y="141" width="5" height="10" fill="#F23645"/>
<rect x="1508.0" y="165" width="1" height="96" fill="#F23645"/>
<rect x="1506.0" y="167" width="5" height="33" fill="#F23645"/>
<rect x="1515.0" y="164" width="1" height="51" fill="#089981"/>
<rect x="1513.0" y="173" width="5" height="22" fill="#089981"/>
<rect x="1522.0" y="161" width="1" height="42" fill="#F23645"/>
<rect x="1520.0" y="175" width="5" height="8" fill="#F23645"/>
<rect x="1529.0" y="157" width="1" height="37" fill="#089981"/>
<rect x="1527.0" y="171" width="5" height="15" fill="#089981"/>
<rect x="1536.0" y="137" width="1" height="56" fill="#F23645"/>
<rect x="1534.0" y="163" width="5" height="26" fill="#F23645"/>
<rect x="1543.0" y="190" width="1" height="77" fill="#089981"/>
<rect x="1541.0" y="194" width="5" height="62" fill="#089981"/>
<rect x="1550.0" y="185" width="1" height="50" fill="#F23645"/>
<rect x="1548.0" y="187" width="5" height="13" fill="#F23645"/>
<rect x="1557.0" y="170" width="1" height="44" fill="#089981"/>
<rect x="1555.0" y="171" width="5" height="33" fill="#089981"/>
<rect x="1564.0" y="159" width="1" height="24" fill="#089981"/>
<rect x="1562.0" y="168" width="5" height="4" fill="#089981"/>
<rect x="1571.0" y="150" width="1" height="50" fill="#F23645"/>
<rect x="1569.0" y="170" width="5" height="26" fill="#F23645"/>
<rect x="1578.0" y="166" width="1" height="50" fill="#089981"/>
<rect x="1576.0" y="172" width="5" height="44" fill="#089981"/>
<rect x="1585.0" y="164" width="1" height="25" fill="#089981"/>
<rect x="1583.0" y="169" width="5" height="5" fill="#089981"/>
<rect x="1592.0" y="165" width="1" height="46" fill="#F23645"/>
<rect x="1590.0" y="168" width="5" height="8" fill="#F23645"/>
<rect x="1599.0" y="139" width="1" height="51" fill="#089981"/>
<rect x="1597.0" y="142" width="5" height="34" fill="#089981"/>
<rect x="1606.0" y="134" width="1" height="15" fill="#089981"/>
<rect x="1604.0" y="142" width="5" height="1" fill="#089981"/>
<rect x="1613.0" y="132" width="1" height="10" fill="#089981"/>
<rect x="1611.0" y="133" width="5" height="5" fill="#089981"/>
<rect x="1620.0" y="126" width="1" height="24" fill="#089981"/>
<rect x="1618.0" y="134" width="5" height="1" fill="#089981"/>
<rect x="1627.0" y="120" width="1" height="23" fill="#089981"/>
<rect x="1625.0" y="127" width="5" height="7" fill="#089981"/>
<rect x="1634.0" y="125" width="1" height="33" fill="#F23645"/>
<rect x="1632.0" y="128" width="5" height="12" fill="#F23645"/>
<rect x="1641.0" y="134" width="1" height="72" fill="#F23645"/>
<rect x="1639.0" y="140" width="5" height="64" fill="#F23645"/>
<rect x="1648.0" y="179" width="1" height="44" fill="#F23645"/>
<rect x="1646.0" y="202" width="5" height="15" fill="#F23645"/>
<rect x="1655.0" y="209" width="1" height="57" fill="#F23645"/>
<rect x="1653.0" y="216" width="5" height="16" fill="#F23645"/>
<rect x="1662.0" y="204" width="1" height="48" fill="#089981"/>
<rect x="1660.0" y="224" width="5" height="6" fill="#089981"/>
<rect x="1669.0" y="209" width="1" height="87" fill="#F23645"/>
<rect x="1667.0" y="231" width="5" height="60" fill="#F23645"/>
<rect x="1676.0" y="235" width="1" height="75" fill="#089981"/>
<rect x="1674.0" y="243" width="5" height="47" fill="#089981"/>
<rect x="1683.0" y="216" width="1" height="110" fill="#F23645"/>
<rect x="1681.0" y="237" width="5" height="57" fill="#F23645"/>
<rect x="1690.0" y="288" width="1" height="84" fill="#F23645"/>
<rect x="1688.0" y="294" width="5" height="30" fill="#F23645"/>
<rect x="1697.0" y="295" width="1" height="72" fill="#089981"/>
<rect x="1695.0" y="310" width="5" height="12" fill="#089981"/>
<rect x="1704.0" y="305" width="1" height="81" fill="#F23645"/>
<rect x="1702.0" y="309" width="5" height="53" fill="#F23645"/>
<rect x="1711.0" y="343" width="1" height="73" fill="#089981"/>
<rect x="1709.0" y="355" width="5" height="4" fill="#089981"/>
<rect x="1718.0" y="364" width="1" height="111" fill="#F23645"/>
<rect x="1716.0" y="367" width="5" height="76" fill="#F23645"/>
<rect x="1725.0" y="427" width="1" height="73" fill="#F23645"/>
<rect x="1723.0" y="447" width="5" height="27" fill="#F23645"/>
<rect x="1732.0" y="413" width="1" height="75" fill="#089981"/>
<rect x="1730.0" y="460" width="5" height="12" fill="#089981"/>
<rect x="1739.0" y="444" width="1" height="69" fill="#F23645"/>
<rect x="1737.0" y="460" width="5" height="38" fill="#F23645"/>
<rect x="1746.0" y="430" width="1" height="68" fill="#089981"/>
<rect x="1744.0" y="441" width="5" height="57" fill="#089981"/>
<rect x="1753.0" y="391" width="1" height="66" fill="#089981"/>
<rect x="1751.0" y="408" width="5" height="34" fill="#089981"/>
<rect x="1760.0" y="404" width="1" height="52" fill="#F23645"/>
<rect x="1758.0" y="408" width="5" height="38" fill="#F23645"/>
<rect x="1767.0" y="384" width="1" height="68" fill="#089981"/>
<rect x="1765.0" y="409" width="5" height="37" fill="#089981"/>
<rect x="1774.0" y="388" width="1" height="50" fill="#F23645"/>
<rect x="1772.0" y="407" width="5" height="11" fill="#F23645"/>
<rect x="1781.0" y="413" width="1" height="43" fill="#089981"/>
<rect x="1779.0" y="415" width="5" height="5" fill="#089981"/>
<rect x="1788.0" y="349" width="1" height="52" fill="#089981"/>
<rect x="1786.0" y="357" width="5" height="43" fill="#089981"/>
<rect x="1795.0" y="341" width="1" height="22" fill="#089981"/>
<rect x="1793.0" y="345" width="5" height="10" fill="#089981"/>
<rect x="1802.0" y="340" width="1" height="58" fill="#F23645"/>
<rect x="1800.0" y="344" width="5" height="48" fill="#F23645"/>
<rect x="1809.0" y="375" width="1" height="37" fill="#089981"/>
<rect x="1807.0" y="399" width="5" height="3" fill="#089981"/>
<rect x="1816.0" y="395" width="1" height="90" fill="#F23645"/>
<rect x="1814.0" y="399" width="5" height="85" fill="#F23645"/>
<rect x="1823.0" y="439" width="1" height="85" fill="#089981"/>
<rect x="1821.0" y="456" width="5" height="34" fill="#089981"/>
<rect x="1830.0" y="425" width="1" height="58" fill="#089981"/>
<rect x="1828.0" y="438" width="5" height="18" fill="#089981"/>
<rect x="1837.0" y="376" width="1" height="127" fill="#F23645"/>
<rect x="1835.0" y="438" width="5" height="55" fill="#F23645"/>
<rect x="1843.0" y="504" width="1" height="90" fill="#F23645"/>
<rect x="1841.0" y="520" width="5" height="72" fill="#F23645"/>
<rect x="1850.0" y="583" width="1" height="220" fill="#F23645"/>
<rect x="1848.0" y="590" width="5" height="199" fill="#F23645"/>
<rect x="1857.0" y="671" width="1" height="277" fill="#089981"/>
<rect x="1855.0" y="774" width="5" height="129" fill="#089981"/>
<rect x="1864.0" y="660" width="1" height="222" fill="#F23645"/>
<rect x="1862.0" y="769" width="5" height="71" fill="#F23645"/>
<rect x="1871.0" y="528" width="1" height="395" fill="#089981"/>
<rect x="1869.0" y="532" width="5" height="307" fill="#089981"/>
<rect x="1878.0" y="523" width="1" height="233" fill="#F23645"/>
<rect x="1876.0" y="537" width="5" height="124" fill="#F23645"/>
<rect x="1885.0" y="591" width="1" height="128" fill="#089981"/>
<rect x="1883.0" y="605" width="5" height="57" fill="#089981"/>
<rect x="1892.0" y="541" width="1" height="65" fill="#F23645"/>
<rect x="1890.0" y="560" width="5" height="21" fill="#F23645"/>
<rect x="1899.0" y="548" width="1" height="43" fill="#F23645"/>
<rect x="1897.0" y="581" width="5" height="5" fill="#F23645"/>
<rect x="1906.0" y="585" width="1" height="107" fill="#F23645"/>
<rect x="1904.0" y="611" width="5" height="51" fill="#F23645"/>
<rect x="1913.0" y="618" width="1" height="51" fill="#089981"/>
<rect x="1911.0" y="645" width="5" height="10" fill="#089981"/>
<rect x="1920.0" y="655" width="1" height="110" fill="#F23645"/>
<rect x="1918.0" y="666" width="5" height="66" fill="#F23645"/>
<rect x="1927.0" y="635" width="1" height="102" fill="#089981"/>
<rect x="1925.0" y="650" width="5" height="81" fill="#089981"/>
<rect x="1934.0" y="537" width="1" height="73" fill="#089981"/>
<rect x="1932.0" y="589" width="5" height="21" fill="#089981"/>
<rect x="1941.0" y="584" width="1" height="19" fill="#089981"/>
<rect x="1939.0" y="588" width="5" height="3" fill="#089981"/>
<text x="2208.5" y="327.3" text-anchor="end" font-family="'Liberation Sans', Arial, sans-serif" font-weight="bold" font-size="20" fill="#131722" stroke="#131722" stroke-width="0.25">5800</text>
<text x="2208.5" y="511.8" text-anchor="end" font-family="'Liberation Sans', Arial, sans-serif" font-weight="bold" font-size="20" fill="#131722" stroke="#131722" stroke-width="0.25">5500</text>
<text x="2208.5" y="759.7" text-anchor="end" font-family="'Liberation Sans', Arial, sans-serif" font-weight="bold" font-size="20" fill="#131722" stroke="#131722" stroke-width="0.25">5095</text>
<text x="2208.5" y="891.3" text-anchor="end" font-family="'Liberation Sans', Arial, sans-serif" font-weight="bold" font-size="20" fill="#131722" stroke="#131722" stroke-width="0.25">4880</text>
<rect x="1437.5" y="335" width="781.5" height="2" fill="#000"/>
<rect x="1738" y="519" width="481" height="2" fill="#000"/>
<rect x="1919" y="767" width="300" height="2" fill="#000"/>
<rect x="1859.5" y="899" width="359.5" height="2" fill="#000"/>
<text x="1760.4" y="776.6" font-family="'Liberation Sans', Arial, sans-serif" font-size="12" fill="#131722" stroke="#131722" stroke-width="0.25" textLength="87.5" lengthAdjust="spacingAndGlyphs">0.618 (5,069.76)</text>
<text x="1776" y="888.5" font-family="'Liberation Sans', Arial, sans-serif" font-size="10" fill="#131722" stroke="#131722" stroke-width="0.25" textLength="73.2" lengthAdjust="spacingAndGlyphs">0.618 (4,889.47)</text>
<line x1="1626.8" y1="119.8" x2="2144.2" y2="764.5" stroke="#000" stroke-width="1.15"/>
<circle cx="1941.5" cy="1025.5" r="9.7" fill="none" stroke="#9c27b0" stroke-width="1.5"/>
<path d="M1944.9 1020.2 L1937.4 1025.8 L1941.0 1025.8 L1938.3 1030.9 L1945.8 1025.3 L1942.2 1025.3 Z" fill="#9c27b0" stroke="#9c27b0" stroke-width="0.4" stroke-linejoin="round"/>
<text x="2274.3" y="1013.7" text-anchor="end" font-family="'Liberation Sans', Arial, sans-serif" font-size="12" fill="#131722" stroke="#131722" stroke-width="0.25">4,700.00</text>
<text x="2274.3" y="983.0" text-anchor="end" font-family="'Liberation Sans', Arial, sans-serif" font-size="12" fill="#131722" stroke="#131722" stroke-width="0.25">4,750.00</text>
<text x="2274.3" y="952.3" text-anchor="end" font-family="'Liberation Sans', Arial, sans-serif" font-size="12" fill="#131722" stroke="#131722" stroke-width="0.25">4,800.00</text>
<text x="2274.3" y="921.6" text-anchor="end" font-family="'Liberation Sans', Arial, sans-serif" font-size="12" fill="#131722" stroke="#131722" stroke-width="0.25">4,850.00</text>
<text x="2274.3" y="891.0" text-anchor="end" font-family="'Liberation Sans', Arial, sans-serif" font-size="12" fill="#131722" stroke="#131722" stroke-width="0.25">4,900.00</text>
<text x="2274.3" y="860.3" text-anchor="end" font-family="'Liberation Sans', Arial, sans-serif" font-size="12" fill="#131722" stroke="#131722" stroke-width="0.25">4,950.00</text>
<text x="2274.3" y="829.6" text-anchor="end" font-family="'Liberation Sans', Arial, sans-serif" font-size="12" fill="#131722" stroke="#131722" stroke-width="0.25">5,000.00</text>
<text x="2274.3" y="798.9" text-anchor="end" font-family="'Liberation Sans', Arial, sans-serif" font-size="12" fill="#131722" stroke="#131722" stroke-width="0.25">5,050.00</text>
<text x="2274.3" y="737.6" text-anchor="end" font-family="'Liberation Sans', Arial, sans-serif" font-size="12" fill="#131722" stroke="#131722" stroke-width="0.25">5,150.00</text>
<text x="2274.3" y="706.9" text-anchor="end" font-family="'Liberation Sans', Arial, sans-serif" font-size="12" fill="#131722" stroke="#131722" stroke-width="0.25">5,200.00</text>
<text x="2274.3" y="676.2" text-anchor="end" font-family="'Liberation Sans', Arial, sans-serif" font-size="12" fill="#131722" stroke="#131722" stroke-width="0.25">5,250.00</text>
<text x="2274.3" y="645.5" text-anchor="end" font-family="'Liberation Sans', Arial, sans-serif" font-size="12" fill="#131722" stroke="#131722" stroke-width="0.25">5,300.00</text>
<text x="2274.3" y="614.9" text-anchor="end" font-family="'Liberation Sans', Arial, sans-serif" font-size="12" fill="#131722" stroke="#131722" stroke-width="0.25">5,350.00</text>
<text x="2274.3" y="584.2" text-anchor="end" font-family="'Liberation Sans', Arial, sans-serif" font-size="12" fill="#131722" stroke="#131722" stroke-width="0.25">5,400.00</text>
<text x="2274.3" y="553.5" text-anchor="end" font-family="'Liberation Sans', Arial, sans-serif" font-size="12" fill="#131722" stroke="#131722" stroke-width="0.25">5,450.00</text>
<text x="2274.3" y="492.2" text-anchor="end" font-family="'Liberation Sans', Arial, sans-serif" font-size="12" fill="#131722" stroke="#131722" stroke-width="0.25">5,550.00</text>
<text x="2274.3" y="461.5" text-anchor="end" font-family="'Liberation Sans', Arial, sans-serif" font-size="12" fill="#131722" stroke="#131722" stroke-width="0.25">5,600.00</text>
<text x="2274.3" y="430.8" text-anchor="end" font-family="'Liberation Sans', Arial, sans-serif" font-size="12" fill="#131722" stroke="#131722" stroke-width="0.25">5,650.00</text>
<text x="2274.3" y="400.2" text-anchor="end" font-family="'Liberation Sans', Arial, sans-serif" font-size="12" fill="#131722" stroke="#131722" stroke-width="0.25">5,700.00</text>
<text x="2274.3" y="369.5" text-anchor="end" font-family="'Liberation Sans', Arial, sans-serif" font-size="12" fill="#131722" stroke="#131722" stroke-width="0.25">5,750.00</text>
<text x="2274.3" y="308.1" text-anchor="end" font-family="'Liberation Sans', Arial, sans-serif" font-size="12" fill="#131722" stroke="#131722" stroke-width="0.25">5,850.00</text>
<text x="2274.3" y="277.4" text-anchor="end" font-family="'Liberation Sans', Arial, sans-serif" font-size="12" fill="#131722" stroke="#131722" stroke-width="0.25">5,900.00</text>
<text x="2274.3" y="246.8" text-anchor="end" font-family="'Liberation Sans', Arial, sans-serif" font-size="12" fill="#131722" stroke="#131722" stroke-width="0.25">5,950.00</text>
<text x="2274.3" y="216.1" text-anchor="end" font-family="'Liberation Sans', Arial, sans-serif" font-size="12" fill="#131722" stroke="#131722" stroke-width="0.25">6,000.00</text>
<text x="2274.3" y="185.4" text-anchor="end" font-family="'Liberation Sans', Arial, sans-serif" font-size="12" fill="#131722" stroke="#131722" stroke-width="0.25">6,050.00</text>
<text x="2274.3" y="154.8" text-anchor="end" font-family="'Liberation Sans', Arial, sans-serif" font-size="12" fill="#131722" stroke="#131722" stroke-width="0.25">6,100.00</text>
<text x="2274.3" y="93.4" text-anchor="end" font-family="'Liberation Sans', Arial, sans-serif" font-size="12" fill="#131722" stroke="#131722" stroke-width="0.25">6,200.00</text>
<text x="2274.3" y="62.7" text-anchor="end" font-family="'Liberation Sans', Arial, sans-serif" font-size="12" fill="#131722" stroke="#131722" stroke-width="0.25">6,250.00</text>
<rect x="2220" y="113" width="60" height="16" rx="2" fill="#000"/>
<text x="2274.3" y="125.2" text-anchor="end" font-family="'Liberation Sans', Arial, sans-serif" font-size="12" fill="#fff" stroke="#fff" stroke-width="0.15">6,151.17</text>
<rect x="2220" y="328.5" width="60" height="16.0" rx="2" fill="#000"/>
<text x="2274.3" y="340.7" text-anchor="end" font-family="'Liberation Sans', Arial, sans-serif" font-size="12" fill="#fff" stroke="#fff" stroke-width="0.15">5,800.00</text>
<rect x="2220" y="512.7" width="60" height="16.299999999999955" rx="2" fill="#000"/>
<text x="2274.3" y="525.1" text-anchor="end" font-family="'Liberation Sans', Arial, sans-serif" font-size="12" fill="#fff" stroke="#fff" stroke-width="0.15">5,500.00</text>
<rect x="2220" y="757.3" width="60" height="33.3" rx="2" fill="#000"/>
<text x="2274.3" y="770.2" text-anchor="end" font-family="'Liberation Sans', Arial, sans-serif" font-size="12" fill="#fff" stroke="#fff" stroke-width="0.15">5,100.95</text>
<text x="2274.3" y="786.8" text-anchor="end" font-family="'Liberation Sans', Arial, sans-serif" font-size="12" fill="#fff" stroke="#fff" stroke-width="0.15">5,095.00</text>
<rect x="2220" y="892.2" width="60" height="16.399999999999977" rx="2" fill="#000"/>
<text x="2274.3" y="904.6" text-anchor="end" font-family="'Liberation Sans', Arial, sans-serif" font-size="12" fill="#fff" stroke="#fff" stroke-width="0.15">4,880.00</text>
<rect x="2220" y="580" width="60" height="30.6" rx="2" fill="#089981"/>
<text x="2274.3" y="592.2" text-anchor="end" font-family="'Liberation Sans', Arial, sans-serif" font-size="12" fill="#fff" stroke="#fff" stroke-width="0.15">5,389.55</text>
<text x="2274.3" y="605.6" text-anchor="end" font-family="'Liberation Sans', Arial, sans-serif" font-size="12" fill="#fff" stroke="#fff" stroke-width="0.15">20:18:17</text>
<rect x="2219" y="28" width="65" height="32.4" fill="#fff"/>
<rect x="2223" y="30.8" width="58" height="26.4" rx="5" fill="#fff" stroke="#ececec" stroke-width="1.3"/>
<text x="2232.6" y="47.9" font-family="'Liberation Sans', Arial, sans-serif" font-size="12" fill="#131722" stroke="#131722" stroke-width="0.25" textLength="20" lengthAdjust="spacingAndGlyphs">USD</text>
<text x="20.6" y="1055.8" text-anchor="middle" font-family="'Liberation Sans', Arial, sans-serif" font-size="12" fill="#131722" stroke="#131722" stroke-width="0.25">Apr</text>
<text x="173.5" y="1055.8" text-anchor="middle" font-family="'Liberation Sans', Arial, sans-serif" font-size="12" fill="#131722" stroke="#131722" stroke-width="0.25">May</text>
<text x="334.9" y="1055.8" text-anchor="middle" font-family="'Liberation Sans', Arial, sans-serif" font-size="12" fill="#131722" stroke="#131722" stroke-width="0.25">Jun</text>
<text x="474.2" y="1055.8" text-anchor="middle" font-family="'Liberation Sans', Arial, sans-serif" font-size="12" fill="#131722" stroke="#131722" stroke-width="0.25">Jul</text>
<text x="634.8" y="1055.8" text-anchor="middle" font-family="'Liberation Sans', Arial, sans-serif" font-size="12" fill="#131722" stroke="#131722" stroke-width="0.25">Aug</text>
<text x="788.2" y="1055.8" text-anchor="middle" font-family="'Liberation Sans', Arial, sans-serif" font-size="12" fill="#131722" stroke="#131722" stroke-width="0.25">Sep</text>
<text x="935.3" y="1055.8" text-anchor="middle" font-family="'Liberation Sans', Arial, sans-serif" font-size="12" fill="#131722" stroke="#131722" stroke-width="0.25">Oct</text>
<text x="1096" y="1055.8" text-anchor="middle" font-family="'Liberation Sans', Arial, sans-serif" font-size="12" fill="#131722" stroke="#131722" stroke-width="0.25">Nov</text>
<text x="1242.5" y="1055.8" text-anchor="middle" font-family="'Liberation Sans', Arial, sans-serif" font-size="12" fill="#131722" stroke="#131722" stroke-width="0.25">Dec</text>
<text x="1389.3" y="1055.8" text-anchor="middle" font-family="'Liberation Sans', Arial, sans-serif" font-size="12" font-weight="bold" fill="#131722" stroke="#131722" stroke-width="0.25">2025</text>
<text x="1543.1" y="1055.8" text-anchor="middle" font-family="'Liberation Sans', Arial, sans-serif" font-size="12" fill="#131722" stroke="#131722" stroke-width="0.25">Feb</text>
<text x="1682.6" y="1055.8" text-anchor="middle" font-family="'Liberation Sans', Arial, sans-serif" font-size="12" fill="#131722" stroke="#131722" stroke-width="0.25">Mar</text>
<text x="1829.2" y="1055.8" text-anchor="middle" font-family="'Liberation Sans', Arial, sans-serif" font-size="12" fill="#131722" stroke="#131722" stroke-width="0.25">Apr</text>
<text x="1976" y="1055.8" text-anchor="middle" font-family="'Liberation Sans', Arial, sans-serif" font-size="12" fill="#131722" stroke="#131722" stroke-width="0.25">May</text>
<text x="2129.8" y="1055.8" text-anchor="middle" font-family="'Liberation Sans', Arial, sans-serif" font-size="12" fill="#131722" stroke="#131722" stroke-width="0.25">Jun</text>
<text x="10.3" y="18.7" font-family="'Liberation Sans', Arial, sans-serif" font-size="12" fill="#131722" stroke="#131722" stroke-width="0.25" textLength="374.5" lengthAdjust="spacingAndGlyphs">TRIXCapital published on TradingView.com, Apr 24, 2025 08:41 UTC+8</text>
<text x="18.7" y="45.5" font-family="'Liberation Sans', Arial, sans-serif" font-size="12" fill="#131722" stroke="#131722" stroke-width="0.25" textLength="127.3" lengthAdjust="spacingAndGlyphs">Ichimoku (9, 26, 52, 26)</text>
<text x="18.7" y="62.7" font-family="'Liberation Sans', Arial, sans-serif" font-size="12" fill="#131722" stroke="#131722" stroke-width="0.25" textLength="80.6" lengthAdjust="spacingAndGlyphs">EMA (50, close)</text>
<text x="108" y="62.7" font-family="'Liberation Sans', Arial, sans-serif" font-size="12" fill="#2962FF" stroke="#2962FF" stroke-width="0.2" textLength="45.8" lengthAdjust="spacingAndGlyphs">5,571.82</text>
<path d="M10 1078 H17.7 V1088 H13.5 V1081.6 H10 Z" fill="#131722" stroke="#131722" stroke-width="0.25"/>
<circle cx="21" cy="1080" r="1.75" fill="#131722" stroke="#131722" stroke-width="0.25"/>
<path d="M23.9 1078 H29 L25.8 1088 H21 Z" fill="#131722" stroke="#131722" stroke-width="0.25"/>
<text x="33.5" y="1088" font-family="'Liberation Sans', Arial, sans-serif" font-size="13" fill="#131722" stroke="#131722" stroke-width="0.25" textLength="69.5" lengthAdjust="spacingAndGlyphs">TradingView</text>
</svg>
</body></html>
